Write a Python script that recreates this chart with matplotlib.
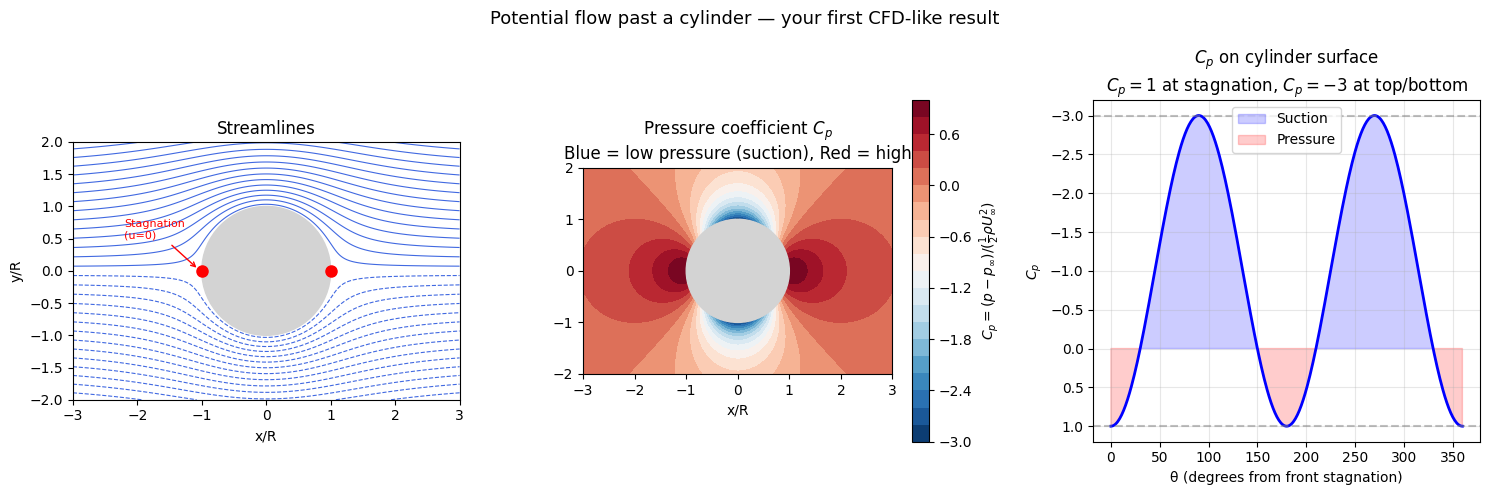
import numpy as np
import matplotlib
matplotlib.use("Agg")
import matplotlib.pyplot as plt
import matplotlib.patches as patches

# flow parameters (potential flow past a cylinder)
U_inf = 1.0
R = 1.0
x_range = (-3, 3)
y_range = (-2, 2)
n_grid = 400

psi_levels = np.linspace(-2, 2, 32)
cp_levels = np.linspace(-3, 1, 21)
stag_x = [-R, R]
stag_y = [0, 0]

theta_deg = np.linspace(0, 360, 361)

# grid + analytic field
x = np.linspace(x_range[0], x_range[1], n_grid)
y = np.linspace(y_range[0], y_range[1], n_grid)
X, Y = np.meshgrid(x, y)
r = np.sqrt(X**2 + Y**2)
th = np.arctan2(Y, X)
inside = r < R

psi = U_inf * (r - R**2 / r) * np.sin(th)
psi[inside] = np.nan

ur = U_inf * (1 - R**2 / r**2) * np.cos(th)
ut = -U_inf * (1 + R**2 / r**2) * np.sin(th)
cp = 1 - (ur**2 + ut**2) / U_inf**2
cp[inside] = np.nan

cp_surf = 1 - 4 * np.sin(np.radians(theta_deg))**2

fig, (ax1, ax2, ax3) = plt.subplots(1, 3, figsize=(15, 5), dpi=100)
fig.suptitle("Potential flow past a cylinder — your first CFD-like result", fontsize=13)

# streamlines
ax1.contour(X, Y, psi, levels=psi_levels, colors='royalblue', linewidths=0.8)
ax1.add_patch(patches.Circle((0, 0), R, color='lightgray', zorder=3))
ax1.plot(stag_x, stag_y, 'o', color='red', markersize=8, zorder=4)
ax1.annotate('Stagnation\n(u=0)', xy=(-1.05, 0.02), xytext=(-2.2, 0.5),
             fontsize=8, color='red',
             arrowprops=dict(arrowstyle='->', color='red', lw=1))
ax1.set_xlim(x_range)
ax1.set_ylim(y_range)
ax1.set_aspect('equal')
ax1.set_title('Streamlines')
ax1.set_xlabel('x/R')
ax1.set_ylabel('y/R')

# pressure coefficient
cf = ax2.contourf(X, Y, cp, levels=cp_levels, cmap='RdBu_r')
ax2.add_patch(patches.Circle((0, 0), R, color='lightgray', zorder=3))
ax2.set_xlim(x_range)
ax2.set_ylim(y_range)
ax2.set_aspect('equal')
ax2.set_title('Pressure coefficient $C_p$\nBlue = low pressure (suction), Red = high')
ax2.set_xlabel('x/R')
cb = fig.colorbar(cf, ax=ax2)
cb.set_label(r'$C_p = (p - p_\infty)/(\frac{1}{2}\rho U_\infty^2)$')

# surface Cp
ax3.plot(theta_deg, cp_surf, 'b-', lw=2)
ax3.fill_between(theta_deg, cp_surf, 0, where=cp_surf < 0, color='blue', alpha=0.2, label='Suction')
ax3.fill_between(theta_deg, cp_surf, 0, where=cp_surf > 0, color='red', alpha=0.2, label='Pressure')
ax3.axhline(-3, color='gray', ls='--', alpha=0.5)
ax3.axhline(1, color='gray', ls='--', alpha=0.5)
ax3.invert_yaxis()
ax3.set_xlabel('θ (degrees from front stagnation)')
ax3.set_ylabel('$C_p$')
ax3.set_title('$C_p$ on cylinder surface\n$C_p = 1$ at stagnation, $C_p = -3$ at top/bottom')
ax3.legend(loc='upper center')
ax3.grid(True, alpha=0.3)

plt.tight_layout()
plt.savefig('out.png', dpi=100, bbox_inches='tight')
